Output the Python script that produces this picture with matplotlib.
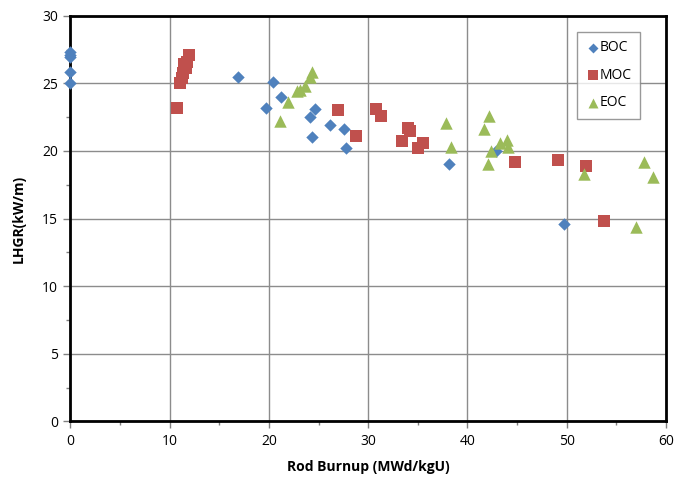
import matplotlib
matplotlib.use("Agg")
import matplotlib.pyplot as plt
from matplotlib.ticker import MultipleLocator

boc_x = [0, 0, 0, 0, 0, 16.9, 19.7, 20.4, 21.2, 24.6, 24.1, 26.1, 27.6, 24.3, 27.8, 38.1, 42.9, 49.7]
boc_y = [27.3, 27.1, 26.95, 25.85, 25.0, 25.5, 23.2, 25.1, 24.0, 23.1, 22.5, 21.9, 21.6, 21.0, 20.2, 19.05, 20.0, 14.6]

moc_x = [10.7, 11.03, 11.2, 11.3, 11.64, 11.44, 11.77, 11.97, 27.0, 28.8, 30.8, 31.3, 33.4, 34.0, 34.2, 35.0, 35.55, 44.8, 49.1, 51.9, 53.75]
moc_y = [23.2, 25.0, 25.4, 25.8, 26.15, 26.4, 26.6, 27.1, 23.0, 21.1, 23.1, 22.6, 20.7, 21.7, 21.45, 20.2, 20.6, 19.2, 19.3, 18.9, 14.8]

eoc_x = [21.1, 21.95, 22.8, 23.1, 23.6, 24.1, 24.3, 37.8, 38.3, 41.7, 42.2, 42.1, 42.4, 43.3, 43.95, 44.1, 51.7, 57.0, 57.8, 58.7]
eoc_y = [22.2, 23.6, 24.4, 24.5, 24.8, 25.5, 25.85, 22.1, 20.3, 21.6, 22.55, 19.05, 20.0, 20.6, 20.8, 20.3, 18.3, 14.4, 19.2, 18.05]

fam = ["Open Sans", "DejaVu Sans"]
plt.rcParams['font.family'] = fam

fig = plt.figure(figsize=(6.89, 4.93), dpi=100)
ax = fig.add_axes([0.1023, 0.1454, 0.8643, 0.8226])

ax.scatter(boc_x, boc_y, marker='D', s=40, color='#4F81BD', label='BOC', zorder=3, linewidths=0, clip_on=False)
ax.scatter(moc_x, moc_y, marker='s', s=75, color='#C0504D', label='MOC', zorder=3, linewidths=0, clip_on=False)
ax.scatter(eoc_x, eoc_y, marker='^', s=80, color='#9BBB59', label='EOC', zorder=3, linewidths=0, clip_on=False)

ax.set_xlim(0, 60)
ax.set_ylim(0, 30)
ax.xaxis.set_major_locator(MultipleLocator(10))
ax.xaxis.set_minor_locator(MultipleLocator(5))
ax.yaxis.set_major_locator(MultipleLocator(5))
ax.yaxis.set_minor_locator(MultipleLocator(2.5))
ax.grid(True, which='major', color='#8c8c8c', linewidth=1.0)
ax.set_axisbelow(True)
for s in ax.spines.values():
    s.set_color('black')
    s.set_linewidth(2)
    s.set_zorder(2.5)
ax.tick_params(which='major', direction='out', length=5, width=1, color='#808080', labelsize=10, pad=4)
ax.tick_params(which='minor', direction='out', length=3, width=1, color='#808080')

ax.set_xlabel('Rod Burnup (MWd/kgU)', fontsize=10, fontweight='bold', labelpad=8)
ax.set_ylabel('LHGR(kW/m)', fontsize=10, fontweight='bold', labelpad=12)

leg = ax.legend(loc='upper right', bbox_to_anchor=(0.956, 0.96), frameon=True, fancybox=False,
                fontsize=10, handletextpad=0.0, borderpad=0.6, labelspacing=0.9,
                handlelength=1.0, scatterpoints=1, borderaxespad=0, markerscale=0.8)
leg.get_frame().set_edgecolor('#808080')
leg.get_frame().set_linewidth(1)

fig.savefig('out.png', dpi=100)
